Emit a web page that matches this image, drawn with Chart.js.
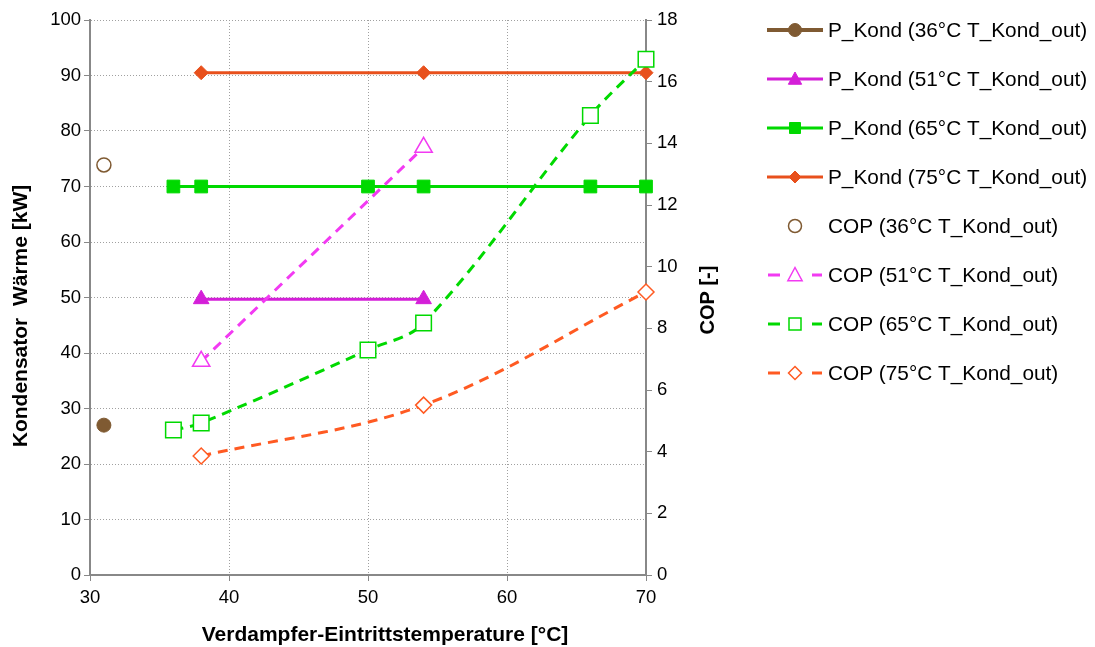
<!DOCTYPE html>
<html>
<head>
<meta charset="utf-8">
<script src="https://cdn.jsdelivr.net/npm/chart.js@4.4.0/dist/chart.umd.min.js"></script>
<style>
  body { margin: 0; background: #fff; }
</style>
</head>
<body>
<canvas id="chartCanvas" width="1095" height="647"></canvas>
<script>
// Verdampfer-Eintrittstemperatur [°C] and values per series
var temp36 = [31];
var temp51 = [38, 54];
var temp65 = [36, 38, 50, 54, 66, 70];
var temp75 = [38, 54, 70];

// Kondensator Wärme [kW] (left axis)
var pKond36 = [27];
var pKond51 = [49.7, 49.7];
var pKond65 = [70, 70, 70, 70, 70, 70];
var pKond75 = [90.5, 90.5, 90.5];

// COP [-] (right axis)
var cop36 = [13.3];
var cop51 = [6.93, 13.87];
var cop65 = [4.70, 4.93, 7.30, 8.17, 14.9, 16.73];
var cop75 = [3.86, 5.51, 9.18];

var legendLabels = [
    "P_Kond (36°C T_Kond_out)",
    "P_Kond (51°C T_Kond_out)",
    "P_Kond (65°C T_Kond_out)",
    "P_Kond (75°C T_Kond_out)",
    "COP (36°C T_Kond_out)",
    "COP (51°C T_Kond_out)",
    "COP (65°C T_Kond_out)",
    "COP (75°C T_Kond_out)"
];

var xTitle = "Verdampfer-Eintrittstemperature [°C]";
var yTitle = "Kondensator  Wärme [kW]";
var y2Title = "COP [-]";

var fontFamily = "'Liberation Sans', Arial, sans-serif";

function toPoints(xs, ys) {
    return xs.map(function (x, i) { return { x: x, y: ys[i] }; });
}

var brown = "#7f5a32";
var magenta = "#d41fd8";
var magentaLight = "#f23af2";
var green = "#00d900";
var orange = "#e8501c";
var orangeLight = "#ff5a22";

function solidSet(label, xs, ys, color, style, radius) {
    return {
        label: label,
        data: toPoints(xs, ys),
        yAxisID: "y",
        borderColor: color,
        backgroundColor: color,
        borderWidth: 3,
        pointStyle: style,
        pointRadius: radius,
        pointHoverRadius: radius,
        pointBackgroundColor: color,
        pointBorderColor: color,
        pointBorderWidth: 1,
        showLine: true,
        tension: 0,
        clip: false
    };
}

function dashSet(label, xs, ys, color, style, radius, lineOn) {
    return {
        label: label,
        data: toPoints(xs, ys),
        yAxisID: "y2",
        borderColor: color,
        backgroundColor: "#ffffff",
        borderWidth: 3,
        borderDash: [10, 7],
        pointStyle: style,
        pointRadius: radius,
        pointHoverRadius: radius,
        pointBackgroundColor: "#ffffff",
        pointBorderColor: color,
        pointBorderWidth: 1.5,
        showLine: lineOn,
        tension: 0.35,
        clip: false
    };
}

var datasets = [
    dashSet(legendLabels[7], temp75, cop75, orangeLight, "rectRot", 8, true),
    dashSet(legendLabels[6], temp65, cop65, green, "rect", 11, true),
    dashSet(legendLabels[5], temp51, cop51, magentaLight, "triangle", 10, true),
    dashSet(legendLabels[4], temp36, cop36, brown, "circle", 7, false),
    solidSet(legendLabels[3], temp75, pKond75, orange, "rectRot", 7),
    solidSet(legendLabels[2], temp65, pKond65, green, "rect", 9),
    solidSet(legendLabels[1], temp51, pKond51, magenta, "triangle", 9),
    solidSet(legendLabels[0], temp36, pKond36, brown, "circle", 7)
];

function drawMarker(ctx, style, x, y, r, fill, stroke, lw) {
    ctx.save();
    ctx.beginPath();
    if (style === "circle") {
        ctx.arc(x, y, r, 0, Math.PI * 2);
    } else if (style === "triangle") {
        ctx.moveTo(x, y - r);
        ctx.lineTo(x + r * 0.95, y + r * 0.75);
        ctx.lineTo(x - r * 0.95, y + r * 0.75);
        ctx.closePath();
    } else if (style === "rect") {
        ctx.rect(x - r, y - r, 2 * r, 2 * r);
    } else if (style === "rectRot") {
        ctx.moveTo(x, y - r);
        ctx.lineTo(x + r, y);
        ctx.lineTo(x, y + r);
        ctx.lineTo(x - r, y);
        ctx.closePath();
    }
    ctx.fillStyle = fill;
    ctx.fill();
    ctx.lineWidth = lw;
    ctx.strokeStyle = stroke;
    ctx.stroke();
    ctx.restore();
}

var sideLegend = {
    id: "sideLegend",
    afterDraw: function (chart) {
        var ctx = chart.ctx;
        var order = [7, 6, 5, 4, 3, 2, 1, 0];
        var legendSizes = { circle: 6.5, triangle: 7, rect: 5.5, rectRot: 6 };
        ctx.save();
        order.forEach(function (di, row) {
            var ds = chart.data.datasets[di];
            var y = 30 + row * 49;
            var r = legendSizes[ds.pointStyle];
            ctx.strokeStyle = ds.borderColor;
            ctx.lineWidth = row === 0 ? 4 : 3;
            if (row < 4) {
                ctx.beginPath();
                ctx.moveTo(767, y);
                ctx.lineTo(823, y);
                ctx.stroke();
            } else if (ds.showLine) {
                ctx.beginPath();
                ctx.moveTo(768, y);
                ctx.lineTo(780, y);
                ctx.moveTo(812, y);
                ctx.lineTo(822, y);
                ctx.stroke();
                r = r + 0.5;
            }
            drawMarker(ctx, ds.pointStyle, 795, y, r,
                ds.pointBackgroundColor, ds.pointBorderColor, row < 4 ? 1 : 1.5);
            ctx.fillStyle = "#000";
            ctx.font = "20.8px " + fontFamily;
            ctx.textBaseline = "middle";
            ctx.textAlign = "left";
            ctx.fillText(legendLabels[row], 828, y + 1);
        });

        ctx.fillStyle = "#000";
        ctx.textAlign = "center";
        ctx.textBaseline = "middle";

        // x axis title
        ctx.font = "bold 21px " + fontFamily;
        ctx.fillText(xTitle, 385, 635);

        // left axis title
        ctx.save();
        ctx.translate(21, 316);
        ctx.rotate(-Math.PI / 2);
        ctx.font = "bold 21px " + fontFamily;
        ctx.fillText(yTitle, 0, 0);
        ctx.restore();

        // right axis title, reading bottom to top
        ctx.translate(708, 300);
        ctx.rotate(-Math.PI / 2);
        ctx.font = "bold 20px " + fontFamily;
        ctx.fillText(y2Title, 0, 0);
        ctx.restore();
    }
};

var tickFont = { family: fontFamily, size: 18.5 };

var chart = new Chart("chartCanvas", {
    type: "scatter",
    data: { datasets: datasets },
    plugins: [sideLegend],
    options: {
        responsive: false,
        animation: false,
        layout: { padding: { top: 20, right: 349, left: 0, bottom: 0 } },
        plugins: {
            legend: { display: false },
            tooltip: { enabled: false }
        },
        scales: {
            x: {
                type: "linear",
                min: 30,
                max: 70,
                ticks: { stepSize: 10, color: "#000", font: tickFont, padding: 6 },
                grid: { color: "#a0a0a0", tickColor: "#888", tickLength: 6 },
                border: { color: "#888", width: 2, dash: [1, 2] },
                afterFit: function (scale) { scale.height = 72; }
            },
            y: {
                position: "left",
                min: 0,
                max: 100,
                ticks: { stepSize: 10, color: "#000", font: tickFont, padding: 3 },
                grid: { color: "#a0a0a0", tickColor: "#888", tickLength: 6 },
                border: { color: "#888", width: 2, dash: [1, 2] },
                afterFit: function (scale) { scale.width = 90; }
            },
            y2: {
                position: "right",
                min: 0,
                max: 18,
                ticks: { stepSize: 2, color: "#000", font: tickFont, padding: 5 },
                grid: { drawOnChartArea: false, tickColor: "#888", tickLength: 6 },
                border: { color: "#888", width: 2 },
                afterFit: function (scale) { scale.width = 100; }
            }
        }
    }
});
</script>
</body>
</html>
